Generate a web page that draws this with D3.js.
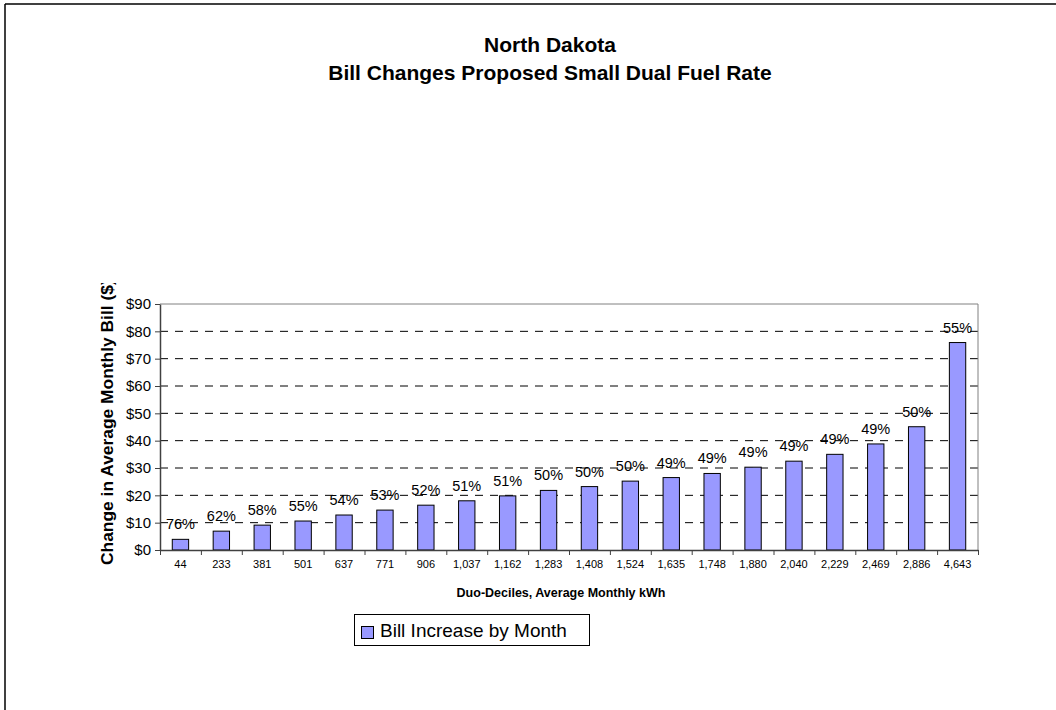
<!DOCTYPE html>
<html>
<head>
<meta charset="utf-8">
<script src="https://cdnjs.cloudflare.com/ajax/libs/d3/7.8.5/d3.min.js"></script>
<style>
  body { margin: 0; background: #fff; }
  text { font-family: "Liberation Sans", Arial, sans-serif; }
</style>
</head>
<body>
<div id="chart"></div>
<script>
// data
var categories = ["44", "233", "381", "501", "637", "771", "906", "1,037", "1,162", "1,283",
                  "1,408", "1,524", "1,635", "1,748", "1,880", "2,040", "2,229", "2,469", "2,886", "4,643"];
var billIncrease = [3.9, 6.9, 9.1, 10.6, 12.8, 14.6, 16.4, 18.0, 19.8, 21.8,
                    23.2, 25.2, 26.5, 28.0, 30.3, 32.5, 35.0, 38.8, 45.1, 75.9];
var pctLabels = ["76%", "62%", "58%", "55%", "54%", "53%", "52%", "51%", "51%", "50%",
                 "50%", "50%", "49%", "49%", "49%", "49%", "49%", "49%", "50%", "55%"];
var yTicks = [0, 10, 20, 30, 40, 50, 60, 70, 80, 90];

var width = 1056, height = 710;
var plot = {left: 160, right: 978, top: 304, bottom: 550};

var svg = d3.select("#chart").append("svg")
  .attr("width", width)
  .attr("height", height);

// outer frame (top + left only visible)
svg.append("line").attr("x1", 5).attr("x2", width).attr("y1", 4).attr("y2", 4)
  .style("stroke", "#000").style("stroke-width", 1.5);
svg.append("line").attr("x1", 5).attr("x2", 5).attr("y1", 4).attr("y2", height)
  .style("stroke", "#000").style("stroke-width", 1.5);

// titles
svg.append("text").attr("x", 550).attr("y", 52).attr("text-anchor", "middle")
  .style("font-size", "21px").style("font-weight", "bold").text("North Dakota");
svg.append("text").attr("x", 550).attr("y", 80).attr("text-anchor", "middle")
  .style("font-size", "21px").style("font-weight", "bold").text("Bill Changes Proposed Small Dual Fuel Rate");

var x = d3.scaleBand()
  .domain(categories)
  .range([plot.left, plot.right])
  .paddingInner(0.6)
  .paddingOuter(0.3);

var xTicksScale = d3.scaleLinear().domain([0, categories.length]).range([plot.left, plot.right]);

var y = d3.scaleLinear()
  .domain([0, 90])
  .range([plot.bottom, plot.top]);

// gridlines
svg.append("g").selectAll("line")
  .data(yTicks.filter(function(d) { return d > 0 && d < 90; }))
  .enter().append("line")
    .attr("x1", plot.left).attr("x2", plot.right)
    .attr("y1", function(d) { return y(d); }).attr("y2", function(d) { return y(d); })
    .style("stroke", "#000").style("stroke-dasharray", "8,7").style("stroke-width", 1);

// plot area border top + right
svg.append("line").attr("x1", plot.left).attr("x2", plot.right).attr("y1", plot.top).attr("y2", plot.top)
  .style("stroke", "#808080");
svg.append("line").attr("x1", plot.right).attr("x2", plot.right).attr("y1", plot.top).attr("y2", plot.bottom)
  .style("stroke", "#808080");

// bars
svg.append("g").selectAll("rect")
  .data(billIncrease)
  .enter().append("rect")
    .attr("x", function(d, i) { return x(categories[i]); })
    .attr("y", function(d) { return y(d); })
    .attr("width", x.bandwidth())
    .attr("height", function(d) { return plot.bottom - y(d); })
    .style("fill", "#9999FF")
    .style("stroke", "#000")
    .style("stroke-width", 1);

// data labels
svg.append("g").selectAll("text")
  .data(billIncrease)
  .enter().append("text")
    .attr("x", function(d, i) { return x(categories[i]) + x.bandwidth() / 2; })
    .attr("y", function(d) { return y(d) - 10; })
    .attr("text-anchor", "middle")
    .style("font-size", "14.5px")
    .text(function(d, i) { return pctLabels[i]; });

// y axis
var yAxis = svg.append("g")
  .attr("transform", "translate(" + plot.left + ",0)")
  .call(d3.axisLeft(y).tickValues(yTicks).tickSize(5).tickSizeOuter(0)
    .tickFormat(function(d) { return "$" + d; }));
yAxis.select(".domain").style("stroke", "#404040").style("stroke-width", 1.5);
yAxis.selectAll(".tick line").style("stroke", "#404040");
yAxis.selectAll("text").style("font-size", "15px").style("font-family", "Liberation Sans, Arial, sans-serif")
  .attr("x", -9).style("fill", "#000");

// x axis line + ticks between categories
var xAxis = svg.append("g")
  .attr("transform", "translate(0," + plot.bottom + ")")
  .call(d3.axisBottom(xTicksScale).tickValues(d3.range(0, categories.length + 1)).tickSize(5)
    .tickSizeOuter(0).tickFormat(""));
xAxis.select(".domain").style("stroke", "#404040").style("stroke-width", 1.5);
xAxis.selectAll(".tick line").style("stroke", "#404040");

svg.append("g").selectAll("text")
  .data(categories)
  .enter().append("text")
    .attr("x", function(d) { return x(d) + x.bandwidth() / 2; })
    .attr("y", plot.bottom + 18)
    .attr("text-anchor", "middle")
    .style("font-size", "11px")
    .text(function(d) { return d; });

// axis titles
svg.append("text").attr("x", 561).attr("y", 597).attr("text-anchor", "middle")
  .style("font-size", "12.5px").style("font-weight", "bold").text("Duo-Deciles, Average Monthly kWh");

// y title is cut off at the top in the original
svg.append("clipPath").attr("id", "yclip").append("rect")
  .attr("x", 80).attr("y", 283).attr("width", 60).attr("height", 300);
svg.append("g")
  .attr("clip-path", "url(#yclip)")
  .append("text")
    .attr("transform", "translate(113,565) rotate(-90)")
    .attr("text-anchor", "start")
    .style("font-size", "17.4px").style("font-weight", "bold")
    .text("Change in Average Monthly Bill  ($)");

// legend
var legend = svg.append("g");
legend.append("rect").attr("x", 354.5).attr("y", 614.5).attr("width", 235).attr("height", 31)
  .style("fill", "#fff").style("stroke", "#000");
legend.append("rect").attr("x", 361.5).attr("y", 626.5).attr("width", 12).attr("height", 12)
  .style("fill", "#9999FF").style("stroke", "#000");
legend.append("text").attr("x", 380).attr("y", 637).style("font-size", "19px").text("Bill Increase by Month");
</script>
</body>
</html>
